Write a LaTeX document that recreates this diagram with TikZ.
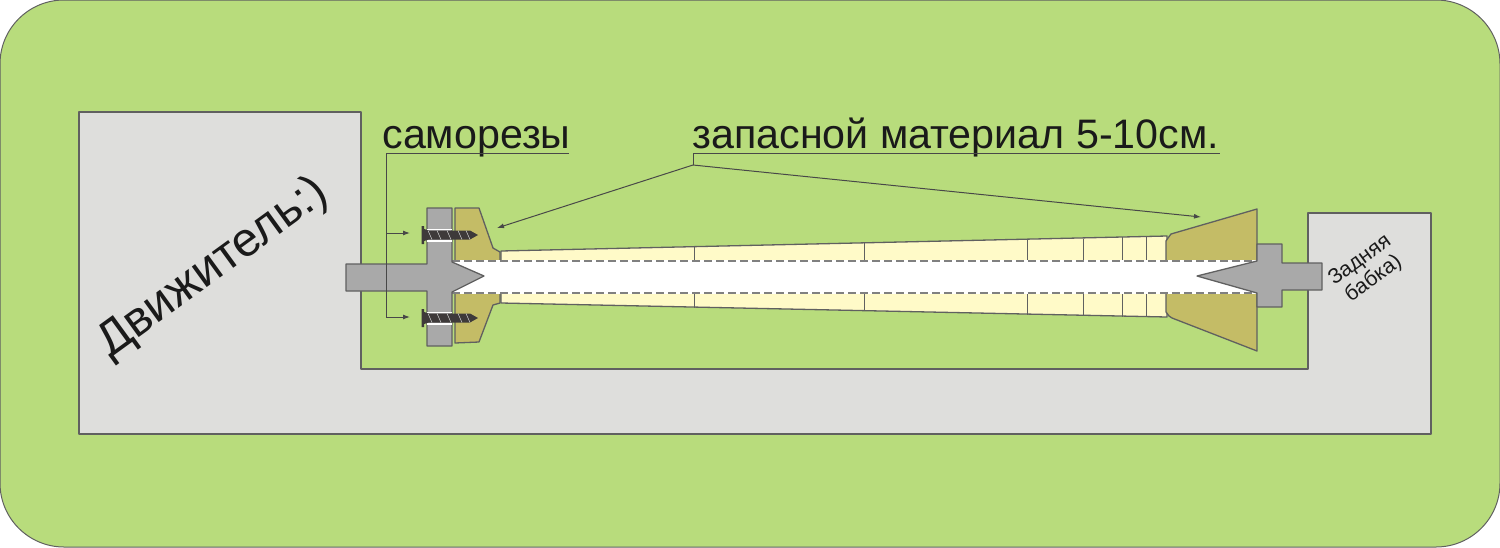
\documentclass[tikz,border=0pt]{standalone}
\usepackage{fontspec}
\setmainfont{Liberation Sans}
\usetikzlibrary{arrows.meta}
\definecolor{bggreen}{HTML}{B8DC7C}
\definecolor{bedgray}{HTML}{DEDEDC}
\definecolor{chuck}{HTML}{A9A9A9}
\definecolor{brass}{HTML}{C4BC66}
\definecolor{pale}{HTML}{FFFAC8}
\definecolor{ink}{HTML}{1A1A1A}
\definecolor{outl}{HTML}{606060}
\definecolor{screwc}{HTML}{3E3A3A}
\tikzset{
  x=0.5pt,y=-0.5pt,
  part/.style={draw=outl,line width=0.65pt,line join=round},
  leader/.style={draw=ink!80,line width=0.5pt},
  tipped/.style={leader,-{Latex[length=3.5pt,width=2.5pt]}},
  dashline/.style={draw=black!50,line width=0.95pt,dash pattern=on 4pt off 2pt},
  tick/.style={draw=outl,line width=0.5pt},
  label/.style={text=ink,inner sep=0pt,font=\fontsize{20.6pt}{22pt}\selectfont},
  smalllabel/.style={text=ink,inner sep=0pt,align=center,font=\fontsize{10.6pt}{11.6pt}\selectfont},
}
\newcommand{\screw}[1]{%
  \begin{scope}[shift={(0,#1)}]
    \fill[white] (427,-6.5) rectangle (452,-5);
    \fill[white] (427,5) rectangle (452,6.5);
    \fill[screwc] (421.5,-9) -- (424,-9) -- (424,-6) -- (429,-4.5) -- (470,-4.5) -- (478,0) -- (470,4.5) -- (429,4.5) -- (424,6) -- (424,9) -- (421.5,9) -- cycle;
    \foreach \sx in {428,437,447,458,466}
      \draw[black!25,line width=0.3pt] (\sx,-4.5) -- (\sx+4,4.5);
  \end{scope}}
\begin{document}
\begin{tikzpicture}
\useasboundingbox (0,0) rectangle (1500,547);
% background
\draw[fill=bggreen,draw=outl,line width=0.5pt,rounded corners=32pt] (0,0) rectangle (1500,547);
% lathe bed
\draw[part,fill=bedgray] (79,112) -- (361,112) -- (361,369) -- (1308,369) -- (1308,213) -- (1431,213) -- (1431,434) -- (79,434) -- cycle;
% blank
\fill[white] (452,261) rectangle (1258,293);
\draw[part,fill=pale] (501,251) -- (1167,236) -- (1167,261) -- (501,261) -- cycle;
\draw[part,fill=pale] (501,293) -- (501,303) -- (1167,317) -- (1167,293) -- cycle;
\foreach \tx/\ta/\tb in {694/247/308, 864/243/311, 1027/239.5/315, 1083/238.5/316, 1122/237/316.5, 1146/236.5/317}{
  \draw[tick] (\tx,\ta) -- (\tx,261);
  \draw[tick] (\tx,293) -- (\tx,\tb);
}
% brass sleeves
\draw[part,fill=brass] (455,208) -- (479,208) -- (493,248) -- (500,252) -- (500,261) -- (455,261) -- cycle;
\draw[part,fill=brass] (455,343) -- (479,342) -- (493,305) -- (500,303) -- (500,293) -- (455,293) -- cycle;
\draw[part,fill=brass] (1166,261) -- (1166,241) -- (1168,238) -- (1171,234) -- (1257,209) -- (1257,261) -- cycle;
\draw[part,fill=brass] (1166,293) -- (1166,312) -- (1169,316) -- (1172,318) -- (1257,351) -- (1257,293) -- cycle;
% dashed border of the channel
\draw[white,line width=1.1pt] (456,261) -- (1257,261);
\draw[white,line width=1.1pt] (456,293) -- (1257,293);
\draw[dashline] (452,261) -- (1258,261);
\draw[dashline] (452,293) -- (1258,293);
% centres
\draw[part,fill=chuck] (346,264) -- (427,264) -- (427,208) -- (452,208) -- (452,262) -- (484,276) -- (452,292) -- (452,346) -- (427,346) -- (427,291) -- (346,291) -- cycle;
\draw[part,fill=chuck] (1197,276) -- (1257,261) -- (1257,244) -- (1282,244) -- (1282,263) -- (1322,263) -- (1322,290) -- (1282,290) -- (1282,307) -- (1257,307) -- (1257,293) -- cycle;
% screws
\screw{235}
\screw{318}
% labels
\node[label,anchor=base west] (samorezy) at (382,148) {саморезы};
\node[label,anchor=base west] (zapas) at (692,148) {запасной материал 5-10см.};
\node[inner sep=0pt,text=ink,rotate=36,font=\fontsize{24pt}{26pt}\selectfont] (motor) at (213,268) {Движитель:)};
\node[smalllabel,rotate=36] (tail) at (1367,270) {Задняя\\бабка)};
% leaders
\coordinate (ua) at (386,153);
\coordinate (ub) at (569,153);
\coordinate (uc) at (693,153);
\coordinate (ud) at (1220,153);
\coordinate (ue) at (693,165);
\coordinate (sa) at (386,233);
\coordinate (sb) at (386,317);
\coordinate (ta) at (410,233);
\coordinate (tb) at (410,317);
\coordinate (tc) at (497,228);
\coordinate (td) at (1201,217);
\draw[leader] (ub) -- (ua) -- (sb);
\draw[tipped] (sa) -- (ta);
\draw[tipped] (sb) -- (tb);
\draw[leader] (uc) -- (ud);
\draw[leader] (uc) -- (ue);
\draw[tipped] (ue) -- (tc);
\draw[tipped] (ue) -- (td);
\end{tikzpicture}
\end{document}
